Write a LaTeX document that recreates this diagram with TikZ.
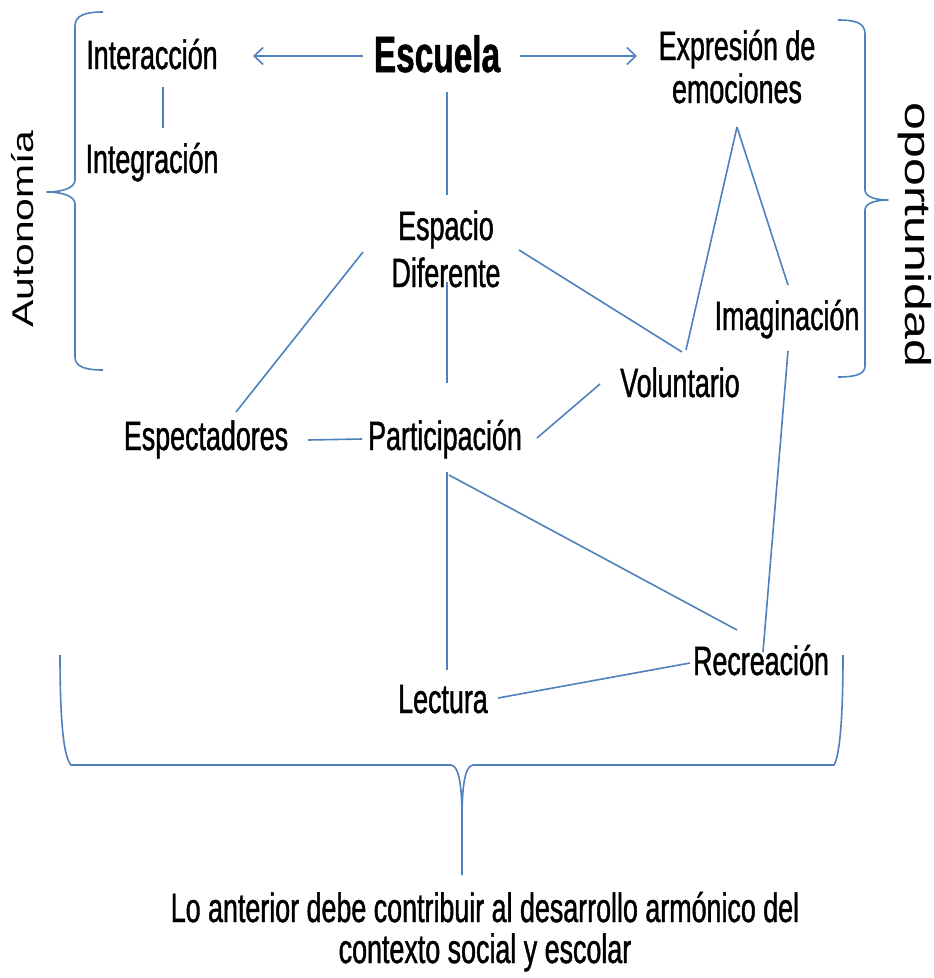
\documentclass[tikz,border=0pt]{standalone}
\usepackage{fontspec}
\setmainfont{Liberation Sans}[FakeStretch=0.655, FakeBold=1]
\newfontfamily\autfont{Liberation Sans}[FakeStretch=1.36]
\newfontfamily\opfont{Liberation Sans}[FakeStretch=1.39]
\usetikzlibrary{arrows.meta,calc}
\definecolor{lineblue}{RGB}{79,129,189}
\begin{document}
\begin{tikzpicture}[x=1pt,y=-1pt,
  lbl/.style={inner sep=0pt, anchor=base, font=\fontsize{41}{47}\selectfont, align=center, text=black},
  conn/.style={draw=lineblue, line width=1.6pt},
  arr/.style={conn, -{Straight Barb[length=9pt,width=17pt]}},
  bracepath/.style={draw=lineblue, line width=1.6pt, line join=round}]
\useasboundingbox[fill=white] (0,0) rectangle (934,978);

% nodes (multi-line nodes are placed by the baseline of their last line)
\node[lbl, font=\fontsize{51}{60}\selectfont\bfseries] (esc) at (437,72) {Escuela};
\node[lbl] (int) at (152,69) {Interacción};
\node[lbl] (ing) at (152,173) {Integración};
\node[lbl, font=\fontsize{41}{43}\selectfont] (exp) at (737,103) {Expresión de\\emociones};
\node[lbl] (esp) at (446,287) {Espacio\\Diferente};
\node[lbl] (spe) at (206,450) {Espectadores};
\node[lbl] (par) at (445,450) {Participación};
\node[lbl] (vol) at (680,397) {Voluntario};
\node[lbl] (ima) at (787,330) {Imaginación};
\node[lbl] (lec) at (443,713) {Lectura};
\node[lbl] (rec) at (761,675) {Recreación};
\node[lbl, font=\fontsize{41}{41}\selectfont] (txt) at (485,963) {Lo anterior debe contribuir al desarrollo armónico del\\contexto social y escolar};
\node[rotate=90, inner sep=0pt, font=\autfont\fontsize{30}{36}\selectfont] (aut) at (23,229) {Autonomía};
\node[rotate=-90, inner sep=0pt, font=\opfont\fontsize{36}{40}\selectfont] (opo) at (915,235) {oportunidad};

% connectors
\draw[arr] ($(esc.base)+(-74,-16)$) -- ($(int.base)+(101,-13)$);
\draw[arr] ($(esc.base)+(83,-16)$) -- ($(exp.base)+(-100,-47)$);
\draw[conn] ($(int.base)+(11,18)$) -- ($(ing.base)+(11,-45)$);
\draw[conn] ($(esc.base)+(10,20)$) -- ($(esp.base)+(1,-92)$);
\draw[conn] ($(esp.base)+(1,-5)$) -- ($(par.base)+(2,-67)$);
\draw[conn] ($(esp.base)+(-83,-35)$) -- ($(spe.base)+(30,-38)$);
\draw[conn] ($(esp.base)+(73,-37)$) -- ($(vol.base)+(2,-45)$);
\draw[conn] ($(exp.base)+(0,24)$) -- ($(vol.base)+(6,-47)$);
\draw[conn] ($(exp.base)+(0,24)$) -- ($(ima.base)+(1,-45)$);
\draw[conn] ($(spe.base)+(102,-10)$) -- ($(par.base)+(-83,-11)$);
\draw[conn] ($(par.base)+(92,-12)$) -- ($(vol.base)+(-80,-13)$);
\draw[conn] ($(ima.base)+(1,21)$) -- ($(rec.base)+(2,-23)$);
\draw[conn] ($(par.base)+(2,22)$) -- ($(lec.base)+(4,-43)$);
\draw[conn] ($(par.base)+(4,25)$) -- ($(rec.base)+(-24,-45)$);
\draw[conn] ($(lec.base)+(55,-15)$) -- ($(rec.base)+(-71,-12)$);

% braces
\draw[bracepath] (103,12) .. controls (86,12) and (75,15) .. (75,26) -- (75,180)
  .. controls (75,188) and (62,192) .. (47,192)
  .. controls (62,192) and (75,196) .. (75,204) -- (75,357)
  .. controls (75,367) and (86,370) .. (103,370);
\draw[bracepath] (838,20) .. controls (856,20) and (865,23) .. (865,34) -- (865,190)
  .. controls (865,197) and (876,200) .. (888,200)
  .. controls (876,200) and (865,203) .. (865,210) -- (865,366)
  .. controls (865,374) and (856,377) .. (838,377);
\draw[bracepath] (60,655) .. controls (60,725) and (64,757) .. (71,765) -- (451,765)
  .. controls (459,766) and (462,785) .. (462,820) -- (462,875);
\draw[bracepath] (843,655) .. controls (843,725) and (839,757) .. (834,765) -- (473,765)
  .. controls (465,766) and (462,785) .. (462,820);
\end{tikzpicture}
\end{document}
